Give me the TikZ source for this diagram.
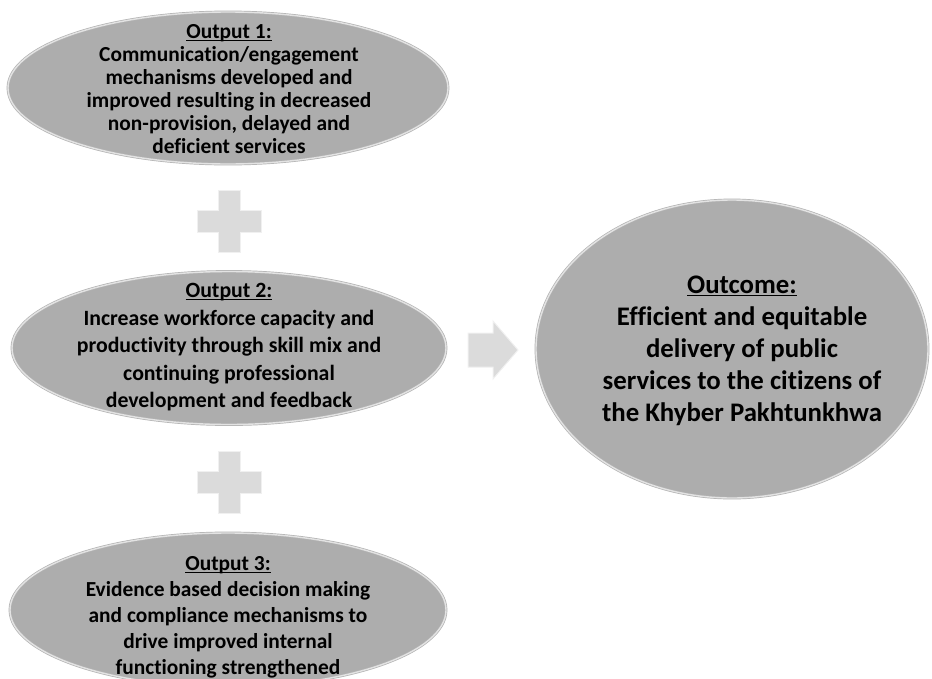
\documentclass[tikz,border=0pt]{standalone}
\usepackage{fontspec}
\setmainfont{Carlito}[Ligatures=NoCommon]
\usetikzlibrary{shapes.geometric}

% underline that sits close to the baseline
\newcommand\headline[1]{\setbox0\hbox{#1}\rlap{\rule[-2.6pt]{\wd0}{1.1pt}}\box0}

\tikzset{
  oval/.style={ellipse, inner sep=0pt, fill=gray!64, draw=gray!60,
    double=gray!22, double distance=1.4pt, line width=.7pt},
  ovaltext/.style 2 args={align=center, inner sep=0pt, anchor=north,
    font=\bfseries\fontsize{#1}{#2}\selectfont},
  plussign/.pic={
    \filldraw[fill=gray!28, draw=gray!12, line width=1pt]
      (-11,-31) -- (11,-31) -- (11,-11) -- (32,-11) -- (32,11) -- (11,11)
      -- (11,31) -- (-11,31) -- (-11,11) -- (-32,11) -- (-32,-11)
      -- (-11,-11) -- cycle;
  },
}

\begin{document}
\begin{tikzpicture}[x=1pt,y=-1pt]
  \useasboundingbox (0,0) rectangle (932,678);

  % the three outputs
  \node[oval, minimum width=440pt, minimum height=152pt] (out1) at (228,88) {};
  \node[oval, minimum width=434pt, minimum height=153pt] (out2) at (229,348) {};
  \node[oval, minimum width=436pt, minimum height=154pt] (out3) at (228,610) {};
  \node[ovaltext={21.4}{23}] (t1) at (229,24)
    {\headline{Output 1:}\\Communication/engagement\\mechanisms developed and\\
     improved resulting in decreased\\non-provision, delayed and\\deficient services};
  \node[ovaltext={21.8}{27.5}] (t2) at (229,283)
    {\headline{Output 2:}\\Increase workforce capacity and\\productivity through skill mix and\\
     continuing professional\\development and feedback};
  \node[ovaltext={21.4}{26}] (t3) at (228,556)
    {\headline{Output 3:}\\Evidence based decision making\\and compliance mechanisms to\\
     drive improved internal\\functioning strengthened};

  % plus signs between them
  \pic at (229,221) {plussign};
  \pic at (229,482) {plussign};

  % block arrow
  \filldraw[fill=gray!28, draw=gray!12, line width=1pt]
    (468,333) -- (493,333) -- (493,321) -- (518,350) -- (493,379)
    -- (493,367) -- (468,367) -- cycle;

  % the outcome
  \node[oval, minimum width=392pt, minimum height=298pt] (outcome) at (732,349) {};
  \node[ovaltext={26.8}{32}] (t4) at (742,276)
    {\headline{Outcome:}\\Efficient and equitable\\delivery of public\\
     services to the citizens of\\the Khyber Pakhtunkhwa};
\end{tikzpicture}
\end{document}
